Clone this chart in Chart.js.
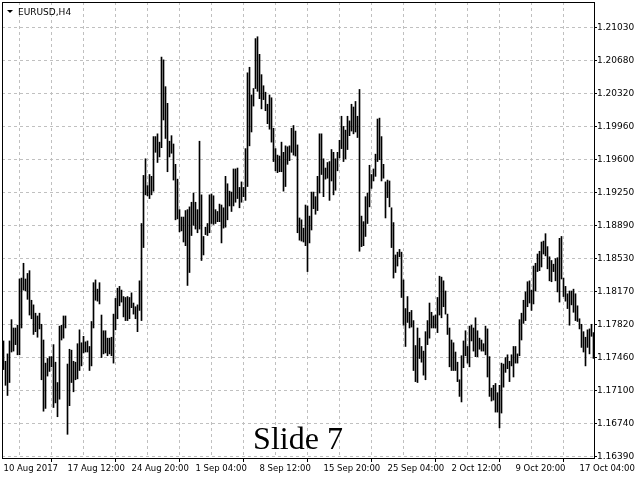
<!DOCTYPE html>
<html lang="en">
<head>
    <meta charset="UTF-8">
    <script src="https://cdn.jsdelivr.net/npm/chart.js"></script>
    <title>EURUSD,H4</title>
    <style>
        body {
            margin: 0;
            background: #fff;
        }
        #chart {
            display: block;
        }
    </style>
</head>
<body>
<canvas id="chart" width="640" height="480"></canvas>

<script>
    // Price axis labels (top to bottom) and time labels (one every 32 bars)
    const priceLabels = ['1.21030', '1.20680', '1.20320', '1.19960', '1.19600', '1.19250', '1.18890',
        '1.18530', '1.18170', '1.17820', '1.17460', '1.17100', '1.16740', '1.16390'];
    const timeLabels = ['10 Aug 2017', '17 Aug 12:00', '24 Aug 20:00', '1 Sep 04:00', '8 Sep 12:00',
        '15 Sep 20:00', '25 Sep 04:00', '2 Oct 12:00', '9 Oct 20:00', '17 Oct 04:00'];

    // H4 bar highs, 16 bars per row
    const highs = [
        1.1764, 1.1742, 1.1750, 1.1764, 1.1787, 1.1778, 1.1778, 1.1781, 1.1831, 1.1832, 1.1848, 1.1831, 1.1837, 1.1840, 1.1808, 1.1803,
        1.1794, 1.1791, 1.1794, 1.1782, 1.1765, 1.1740, 1.1745, 1.1747, 1.1747, 1.1760, 1.1741, 1.1719, 1.1780, 1.1781, 1.1791, 1.1791,
        1.1739, 1.1755, 1.1754, 1.1742, 1.1741, 1.1761, 1.1776, 1.1762, 1.1769, 1.1763, 1.1764, 1.1758, 1.1785, 1.1827, 1.1830, 1.1820,
        1.1827, 1.1792, 1.1775, 1.1775, 1.1767, 1.1767, 1.1768, 1.1793, 1.1810, 1.1821, 1.1823, 1.1819, 1.1812, 1.1811, 1.1812, 1.1811,
        1.1816, 1.1805, 1.1801, 1.1803, 1.1829, 1.1891, 1.1943, 1.1961, 1.1932, 1.1944, 1.1942, 1.1985, 1.1985, 1.1988, 1.1979, 1.2071,
        1.2068, 1.2039, 1.2021, 1.1980, 1.1986, 1.1977, 1.1955, 1.1939, 1.1906, 1.1898, 1.1898, 1.1905, 1.1906, 1.1909, 1.1914, 1.1924,
        1.1914, 1.1906, 1.1980, 1.1922, 1.1877, 1.1887, 1.1891, 1.1922, 1.1923, 1.1921, 1.1906, 1.1904, 1.1912, 1.1911, 1.1908, 1.1942,
        1.1934, 1.1926, 1.1925, 1.1950, 1.1950, 1.1951, 1.1930, 1.1936, 1.1930, 1.1972, 1.2054, 1.2060, 1.2030, 1.2037, 1.2091, 1.2093,
        1.2074, 1.2052, 1.2040, 1.2033, 1.2020, 1.2030, 1.2027, 1.1994, 1.1972, 1.1965, 1.1964, 1.1979, 1.1968, 1.1975, 1.1974, 1.1975,
        1.1994, 1.1997, 1.1991, 1.1976, 1.1897, 1.1895, 1.1886, 1.1911, 1.1910, 1.1899, 1.1925, 1.1925, 1.1920, 1.1942, 1.1988, 1.1988,
        1.1961, 1.1951, 1.1957, 1.1958, 1.1971, 1.1968, 1.1961, 1.1968, 1.1981, 1.2007, 1.1996, 1.1992, 1.2007, 1.2002, 1.2020, 1.2017,
        1.2023, 1.2007, 1.2036, 1.1899, 1.1893, 1.1920, 1.1924, 1.1954, 1.1944, 1.1950, 1.1966, 1.2004, 1.2005, 1.1985, 1.1955, 1.1936,
        1.1938, 1.1937, 1.1908, 1.1892, 1.1857, 1.1860, 1.1863, 1.1860, 1.1830, 1.1799, 1.1812, 1.1795, 1.1797, 1.1786, 1.1759, 1.1778,
        1.1767, 1.1758, 1.1753, 1.1774, 1.1786, 1.1805, 1.1795, 1.1791, 1.1792, 1.1811, 1.1834, 1.1833, 1.1829, 1.1818, 1.1793, 1.1778,
        1.1765, 1.1762, 1.1752, 1.1741, 1.1722, 1.1748, 1.1764, 1.1775, 1.1758, 1.1780, 1.1781, 1.1778, 1.1789, 1.1775, 1.1767, 1.1765,
        1.1761, 1.1780, 1.1777, 1.1747, 1.1713, 1.1716, 1.1718, 1.1708, 1.1716, 1.1740, 1.1739, 1.1746, 1.1749, 1.1742, 1.1749, 1.1758,
        1.1758, 1.1750, 1.1787, 1.1794, 1.1808, 1.1817, 1.1828, 1.1829, 1.1819, 1.1845, 1.1848, 1.1858, 1.1861, 1.1871, 1.1872, 1.1880,
        1.1866, 1.1855, 1.1851, 1.1847, 1.1853, 1.1854, 1.1875, 1.1877, 1.1832, 1.1823, 1.1815, 1.1818, 1.1818, 1.1820, 1.1815, 1.1802,
        1.1788, 1.1782, 1.1774, 1.1768, 1.1776, 1.1777, 1.1782, 1.1773
    ];

    // H4 bar lows, same order
    const lows = [
        1.1733, 1.1716, 1.1705, 1.1719, 1.1752, 1.1753, 1.1760, 1.1749, 1.1749, 1.1778, 1.1819, 1.1818, 1.1809, 1.1792, 1.1788, 1.1771,
        1.1774, 1.1768, 1.1777, 1.1722, 1.1688, 1.1691, 1.1726, 1.1731, 1.1736, 1.1692, 1.1697, 1.1682, 1.1701, 1.1765, 1.1767, 1.1778,
        1.1663, 1.1694, 1.1719, 1.1709, 1.1722, 1.1723, 1.1732, 1.1737, 1.1751, 1.1752, 1.1752, 1.1732, 1.1737, 1.1778, 1.1808, 1.1807,
        1.1804, 1.1746, 1.1750, 1.1751, 1.1748, 1.1750, 1.1748, 1.1740, 1.1776, 1.1788, 1.1802, 1.1806, 1.1790, 1.1786, 1.1786, 1.1788,
        1.1800, 1.1793, 1.1788, 1.1774, 1.1797, 1.1786, 1.1865, 1.1922, 1.1921, 1.1918, 1.1922, 1.1926, 1.1968, 1.1957, 1.1963, 1.1973,
        1.2003, 1.1983, 1.1947, 1.1963, 1.1967, 1.1938, 1.1895, 1.1896, 1.1882, 1.1883, 1.1871, 1.1867, 1.1824, 1.1838, 1.1878, 1.1889,
        1.1885, 1.1881, 1.1885, 1.1851, 1.1857, 1.1879, 1.1878, 1.1881, 1.1891, 1.1890, 1.1891, 1.1893, 1.1893, 1.1870, 1.1886, 1.1887,
        1.1895, 1.1910, 1.1904, 1.1910, 1.1914, 1.1918, 1.1908, 1.1914, 1.1920, 1.1916, 1.1931, 1.1975, 1.1990, 1.2018, 1.2037, 1.2034,
        1.2026, 1.2015, 1.2025, 1.2013, 1.1999, 1.1993, 1.1979, 1.1958, 1.1948, 1.1946, 1.1947, 1.1947, 1.1926, 1.1931, 1.1955, 1.1959,
        1.1968, 1.1965, 1.1964, 1.1881, 1.1873, 1.1872, 1.1871, 1.1867, 1.1839, 1.1870, 1.1884, 1.1907, 1.1901, 1.1905, 1.1924, 1.1944,
        1.1920, 1.1939, 1.1940, 1.1916, 1.1937, 1.1922, 1.1927, 1.1948, 1.1962, 1.1972, 1.1958, 1.1961, 1.1971, 1.1986, 1.1991, 1.1988,
        1.1990, 1.1984, 1.1861, 1.1866, 1.1867, 1.1877, 1.1891, 1.1909, 1.1929, 1.1937, 1.1942, 1.1958, 1.1960, 1.1937, 1.1940, 1.1897,
        1.1919, 1.1909, 1.1865, 1.1832, 1.1838, 1.1845, 1.1855, 1.1811, 1.1781, 1.1758, 1.1784, 1.1778, 1.1779, 1.1732, 1.1720, 1.1719,
        1.1745, 1.1741, 1.1727, 1.1722, 1.1760, 1.1767, 1.1778, 1.1778, 1.1778, 1.1773, 1.1792, 1.1789, 1.1801, 1.1793, 1.1771, 1.1736,
        1.1732, 1.1732, 1.1732, 1.1720, 1.1704, 1.1698, 1.1735, 1.1748, 1.1740, 1.1736, 1.1764, 1.1753, 1.1747, 1.1747, 1.1755, 1.1753,
        1.1753, 1.1749, 1.1725, 1.1704, 1.1699, 1.1700, 1.1687, 1.1687, 1.1670, 1.1686, 1.1714, 1.1730, 1.1734, 1.1720, 1.1737, 1.1725,
        1.1740, 1.1740, 1.1748, 1.1765, 1.1783, 1.1786, 1.1801, 1.1805, 1.1797, 1.1804, 1.1818, 1.1839, 1.1840, 1.1844, 1.1858, 1.1856,
        1.1842, 1.1829, 1.1828, 1.1839, 1.1829, 1.1817, 1.1806, 1.1831, 1.1812, 1.1807, 1.1799, 1.1781, 1.1803, 1.1795, 1.1786, 1.1785,
        1.1777, 1.1757, 1.1752, 1.1737, 1.1757, 1.1750, 1.1769, 1.1745
    ];

    const symbolTitle = 'EURUSD,H4';
    const slideText = 'Slide 7';

    // evenly spaced price grid, labels are the rounded values MT4 prints
    const topPrice = parseFloat(priceLabels[0]);
    const bottomPrice = parseFloat(priceLabels[priceLabels.length - 1]);
    const priceStep = (topPrice - bottomPrice) / (priceLabels.length - 1);
    const perPixel = (topPrice - bottomPrice) / 429;

    const gridColor = '#c0c0c0';
    Chart.defaults.font.family = 'DejaVu Sans';
    Chart.defaults.font.size = 9;
    Chart.defaults.color = '#000';

    // frame + caption texts
    const frameAndText = {
        id: 'frameAndText',
        afterDraw(chart) {
            const c = chart.ctx;
            const a = chart.chartArea;
            c.save();
            c.strokeStyle = '#000';
            c.lineWidth = 1;
            c.strokeRect(a.left + 0.5, a.top + 0.5, a.right - a.left, a.bottom - a.top);

            c.fillStyle = '#000';
            c.beginPath();
            c.moveTo(7, 10);
            c.lineTo(13, 10);
            c.lineTo(10, 13);
            c.closePath();
            c.fill();

            c.font = '9px "DejaVu Sans"';
            c.textBaseline = 'alphabetic';
            c.fillText(symbolTitle, 18, 15);

            c.font = '32px "Liberation Serif"';
            c.textAlign = 'center';
            c.fillText(slideText, 298, 449);
            c.restore();
        }
    };

    const ctx = document.getElementById('chart').getContext('2d');
    const barChart = new Chart(ctx, {
        type: 'bar',
        data: {
            datasets: [{
                data: highs.map((h, i) => ({x: i, y: [lows[i], h]})),
                backgroundColor: '#000',
                borderWidth: 0,
                barThickness: 1
            }]
        },
        options: {
            responsive: false,
            devicePixelRatio: 1,
            animation: false,
            layout: {
                padding: {left: 2, top: 2, right: 0, bottom: 0}
            },
            plugins: {
                legend: {display: false},
                tooltip: {enabled: false}
            },
            scales: {
                x: {
                    type: 'linear',
                    offset: false,
                    min: -0.75,
                    max: highs.length - 0.75,
                    border: {display: false, dash: [3, 3]},
                    grid: {
                        color: gridColor,
                        tickColor: (c) => (c.tick && c.tick.value % 32 === 0) ? '#000' : 'rgba(0,0,0,0)',
                        tickLength: 4,
                        tickBorderDash: []
                    },
                    afterBuildTicks: (scale) => {
                        const t = [];
                        for (let i = 0; i < highs.length; i += 16) t.push({value: i});
                        scale.ticks = t;
                    },
                    ticks: {
                        autoSkip: false,
                        maxRotation: 0,
                        align: 'start',
                        padding: 2,
                        font: {size: 8.5},
                        callback: (v) => v % 32 === 0 ? timeLabels[v / 32] : ''
                    },
                    afterFit: (scale) => {
                        scale.height = 22;
                        scale.paddingLeft = 0;
                        scale.paddingRight = 0;
                    }
                },
                y: {
                    position: 'right',
                    min: bottomPrice - 1.5 * perPixel,
                    max: topPrice + 25.5 * perPixel,
                    border: {display: false, dash: [3, 3]},
                    grid: {
                        color: gridColor,
                        tickColor: '#000',
                        tickLength: 3,
                        tickBorderDash: []
                    },
                    afterBuildTicks: (scale) => {
                        scale.ticks = priceLabels.map((l, i) => ({value: topPrice - i * priceStep}));
                    },
                    ticks: {
                        padding: 0,
                        callback: (v, i) => priceLabels[i]
                    },
                    afterFit: (scale) => {
                        scale.width = 46;
                        scale.paddingTop = 0;
                        scale.paddingBottom = 0;
                    }
                }
            }
        },
        plugins: [frameAndText]
    });
</script>

</body>
</html>
